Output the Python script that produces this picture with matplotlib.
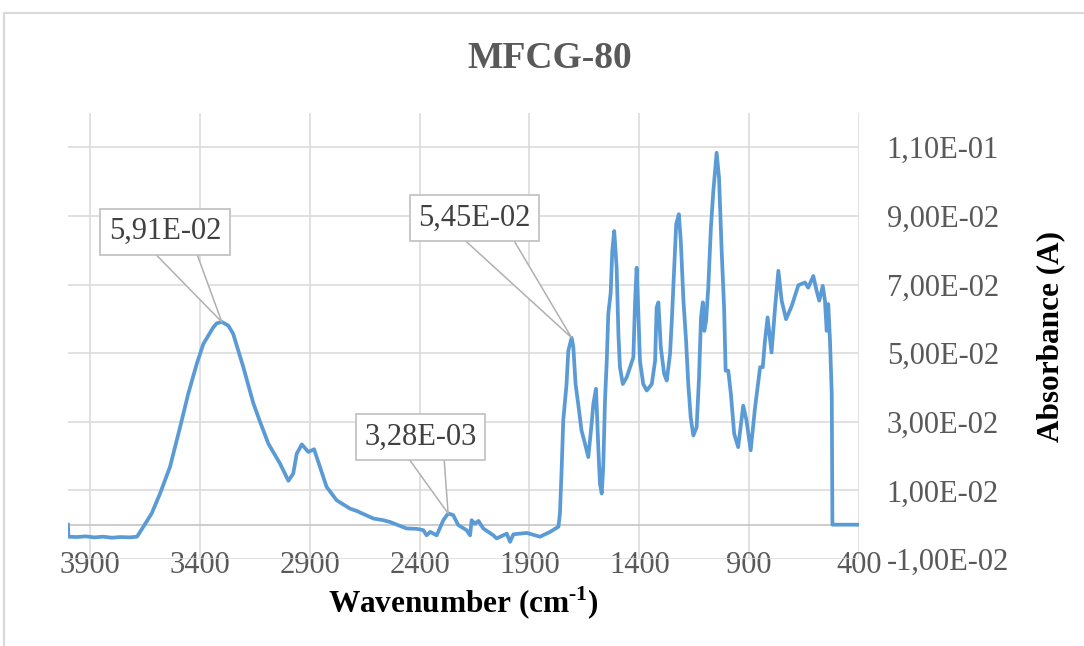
import matplotlib
matplotlib.use("Agg")
import matplotlib.pyplot as plt
from matplotlib.lines import Line2D

plt.rcParams.update({
    "font.family": "Liberation Serif",
    "mathtext.fontset": "custom",
    "mathtext.rm": "Liberation Serif",
    "mathtext.bf": "Liberation Serif:bold",
    "text.color": "#595959",
    "xtick.color": "#595959",
    "ytick.color": "#595959",
    "xtick.labelsize": 22,
    "ytick.labelsize": 22,
})

# spectrum (wavenumber in cm-1, absorbance)
wavenumber = [
    4000, 3998, 3960, 3920, 3880, 3840, 3800, 3760, 3720, 3686, 3657, 3619,
    3581, 3536, 3490, 3453, 3414, 3384, 3339, 3323, 3300, 3270, 3248, 3202,
    3157, 3126, 3088, 3035, 2997, 2975, 2959, 2936, 2906, 2880, 2853, 2823,
    2777, 2717, 2686, 2610, 2565, 2535, 2459, 2413, 2383, 2368, 2352, 2322,
    2292, 2270, 2247, 2224, 2186, 2170, 2163, 2148, 2132, 2110, 2064, 2049,
    2003, 1988, 1973, 1912, 1852, 1806, 1768, 1761, 1753, 1746, 1731, 1723,
    1708, 1700, 1690, 1678, 1663, 1647, 1632, 1617, 1609, 1597, 1586, 1579,
    1571, 1564, 1556, 1548, 1541, 1530, 1523, 1514, 1503, 1495, 1488, 1475,
    1457, 1442, 1427, 1419, 1412, 1404, 1397, 1382, 1366, 1343, 1328, 1321,
    1313, 1302, 1287, 1275, 1260, 1252, 1241, 1232, 1220, 1211, 1199, 1187,
    1177, 1166, 1154, 1139, 1128, 1119, 1111, 1104, 1096, 1086, 1074, 1063,
    1048, 1037, 1025, 1014, 1007, 995, 983, 968, 950, 927, 912, 893,
    873, 850, 838, 828, 816, 798, 782, 767, 752, 732, 706, 676,
    646, 631, 608, 593, 581, 565, 555, 547, 540, 532, 524, 521, 400,
]
absorbance = [
    0.0, -0.0035, -0.0036, -0.0034, -0.0037, -0.0035, -0.0038, -0.0036, -0.0037, -0.0035, -0.0006, 0.0033,
    0.0091, 0.0168, 0.0284, 0.0381, 0.0469, 0.0527, 0.0575, 0.0587, 0.0591, 0.0580, 0.0556, 0.0459,
    0.0355, 0.0300, 0.0236, 0.0178, 0.0128, 0.0149, 0.0207, 0.0234, 0.0212, 0.0220, 0.0168, 0.0110,
    0.0071, 0.0047, 0.0040, 0.0018, 0.0013, 0.0008, -0.0011, -0.0012, -0.0016, -0.0031, -0.0021, -0.0031,
    0.0013, 0.00328, 0.0028, -0.0001, -0.0016, -0.0031, 0.0013, 0.0003, 0.0011, -0.0011, -0.0031, -0.0040,
    -0.0026, -0.0050, -0.0028, -0.0024, -0.0035, -0.0021, -0.0006, 0.0033, 0.0168, 0.0304, 0.0410, 0.0507,
    0.0545, 0.0517, 0.0410, 0.0352, 0.0275, 0.0236, 0.0197, 0.0294, 0.0352, 0.0396, 0.0217, 0.0120,
    0.0091, 0.0168, 0.0362, 0.0478, 0.0614, 0.0677, 0.0798, 0.0856, 0.0749, 0.0556, 0.0459, 0.0410,
    0.0430, 0.0459, 0.0488, 0.0653, 0.0749, 0.0614, 0.0478, 0.0410, 0.0391, 0.0410, 0.0478, 0.0633,
    0.0648, 0.0517, 0.0440, 0.0420, 0.0498, 0.0594, 0.0749, 0.0876, 0.0905, 0.0827, 0.0653, 0.0536,
    0.0410, 0.0313, 0.0260, 0.0284, 0.0430, 0.0604, 0.0648, 0.0565, 0.0594, 0.0691, 0.0866, 0.0972,
    0.1084, 0.1011, 0.0798, 0.0633, 0.0449, 0.0449, 0.0381, 0.0265, 0.0226, 0.0347, 0.0304, 0.0217,
    0.0342, 0.0459, 0.0459, 0.0536, 0.0604, 0.0502, 0.0633, 0.0740, 0.0653, 0.0599, 0.0638, 0.0698,
    0.0706, 0.0691, 0.0725, 0.0682, 0.0653, 0.0696, 0.0653, 0.0565, 0.0643, 0.0536, 0.0381, 0.0, 0.0,
]

# labelled points: wavenumber, absorbance, label
callout_x = [3300, 1708, 2270]
callout_y = [0.0591, 0.0545, 0.00328]
callout_text = ["5,91E-02", "5,45E-02", "3,28E-03"]
callout_offset = [(-41, 65), (-70, 86), (-20, 55)]

x_ticks = [3900, 3400, 2900, 2400, 1900, 1400, 900, 400]
y_ticks = [-0.01, 0.01, 0.03, 0.05, 0.07, 0.09, 0.11]
y_ticklabels = ["-1,00E-02", "1,00E-02", "3,00E-02", "5,00E-02",
                "7,00E-02", "9,00E-02", "1,10E-01"]

fig = plt.figure(figsize=(10.84, 6.46), dpi=100)
ax = fig.add_axes([68 / 1084, 87 / 646, 791 / 1084, 446 / 646])

ax.plot(wavenumber, absorbance, color="#5b9bd5", linewidth=2.7,
        solid_joinstyle="round", zorder=3)
ax.axhline(0, color="#c4c4c4", linewidth=1.2, zorder=1)

ax.set_xlim(4000, 400)
ax.set_ylim(-0.01, 0.12)
ax.set_xticks(x_ticks)
ax.set_yticks(y_ticks, y_ticklabels)
ax.yaxis.tick_right()
ax.tick_params(axis="x", length=0, pad=-6)
ax.tick_params(axis="y", length=0, pad=20)
for lab in ax.get_yticklabels():
    lab.set_horizontalalignment("left")
ax.grid(True, color="#d9d9d9", linewidth=1.1, zorder=0)
ax.set_axisbelow(True)
for s in ax.spines.values():
    s.set_visible(False)

ax.set_xlabel("Wavenumber (cm$^{\\mathbf{\u2010}\\mathbf{1}}$)", fontsize=22.5,
              fontweight="bold", va="center")
ax.xaxis.set_label_coords(0.5, -0.099)
ax.set_ylabel("Absorbance (A)", fontsize=22.5, fontweight="bold",
              rotation=90, va="center")
ax.yaxis.set_label_position("right")
ax.yaxis.set_label_coords(1.224, 0.5)

fig.text(550 / 1084, 1 - 58 / 646, "MFCG-80", fontsize=27, fontweight="bold",
         ha="center", va="center", color="#595959")

for x, y, t, off in zip(callout_x, callout_y, callout_text, callout_offset):
    ax.annotate(t, xy=(x, y), xytext=off, textcoords="offset points",
                ha="center", va="center", fontsize=22, color="#404040",
                bbox=dict(boxstyle="square,pad=0.28", fc="white",
                          ec="#bfbfbf", lw=1.2),
                arrowprops=dict(arrowstyle="wedge,tail_width=1.5",
                                fc="white", ec="#b0b0b0", lw=1.1,
                                shrinkA=0, shrinkB=0, patchA=None),
                zorder=4)

# chart area border
fig.add_artist(Line2D([4 / 1084, 1], [1 - 13 / 646, 1 - 13 / 646],
                      transform=fig.transFigure, color="#d9d9d9", lw=1.5))
fig.add_artist(Line2D([4 / 1084, 4 / 1084], [0, 1 - 13 / 646],
                      transform=fig.transFigure, color="#d9d9d9", lw=1.5))

fig.savefig("out.png", dpi=100)
